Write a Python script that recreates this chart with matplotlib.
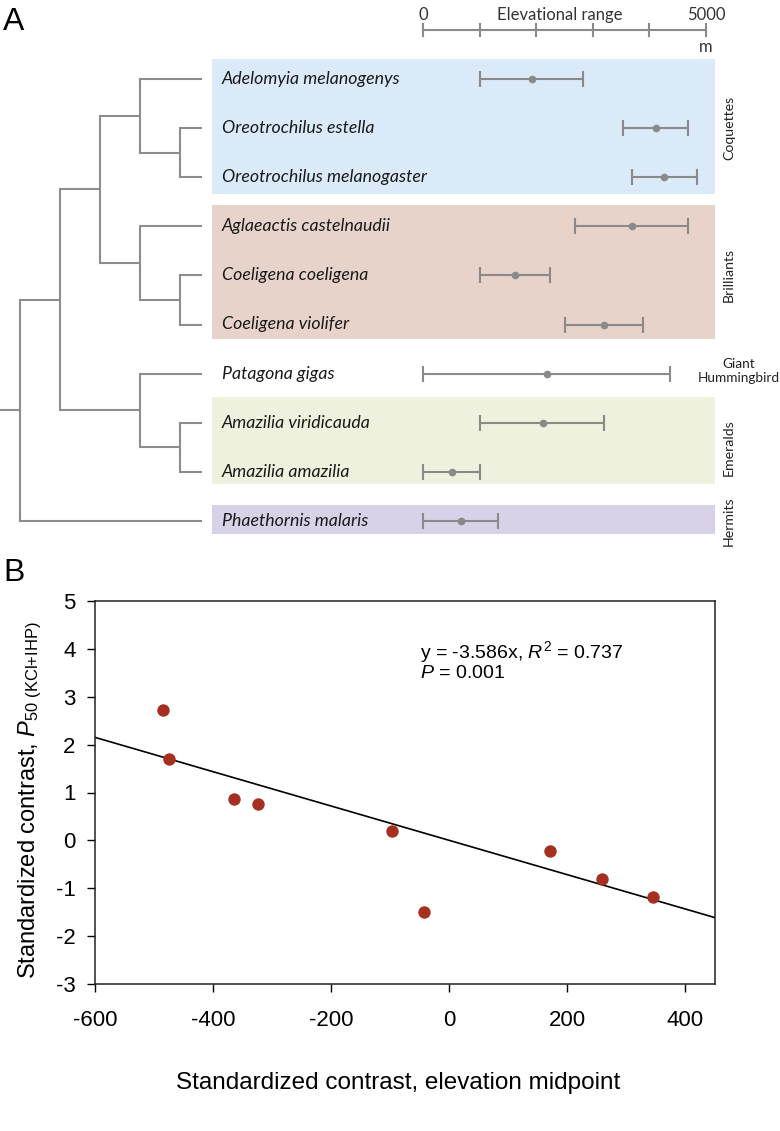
"""Hummingbird elevational ranges on a phylogeny (A) and P50 contrasts vs elevation (B)."""

import matplotlib
matplotlib.use('Agg')
import matplotlib.pyplot as plt
import matplotlib.transforms as mtransforms

# ---- panel A data ----
species = [
  'Adelomyia melanogenys', 'Oreotrochilus estella', 'Oreotrochilus melanogaster',
  'Aglaeactis castelnaudii', 'Coeligena coeligena', 'Coeligena violifer',
  'Patagona gigas', 'Amazilia viridicauda', 'Amazilia amazilia',
  'Phaethornis malaris',
]
elev_low = [1000, 3540, 3690, 2690, 1000, 2510, 0, 1000, 0, 0]
elev_mid = [1920, 4120, 4250, 3690, 1630, 3190, 2190, 2110, 510, 665]
elev_high = [2830, 4690, 4835, 4690, 2240, 3880, 4360, 3200, 1000, 1320]

# tree topology, leaves are indices into species
tree = (((((0, (1, 2)), (3, (4, 5))), (6, (7, 8))), 9))

group_names = ['Coquettes', 'Brilliants', 'Giant\nHummingbird', 'Emeralds', 'Hermits']
group_first = [0, 3, 6, 7, 9]
group_last = [2, 5, 6, 8, 9]
group_colors = ['#dbeaf8', '#e8d3cb', None, '#edf1dd', '#d9d1e7']
group_pads = [(0.40, 0.34), (0.44, 0.30), (0, 0), (0.52, 0.25), (0.33, 0.27)]

scale_ticks = [0, 1000, 2000, 3000, 4000, 5000]

# ---- panel B data ----
contrast_elev = [-485, -474, -364, -324, -97, -43, 171, 258, 345]
contrast_p50 = [2.72, 1.71, 0.86, 0.76, 0.20, -1.50, -0.23, -0.81, -1.18]
slope = -3.586e-3
fit_x = [-600, 450]

W, H = 780, 1131
plt.rcParams['mathtext.fontset'] = 'custom'
plt.rcParams['mathtext.rm'] = 'Liberation Sans'
plt.rcParams['mathtext.it'] = 'Liberation Sans:italic'
plt.rcParams['axes.unicode_minus'] = False
fig = plt.figure(figsize=(W / 100, H / 100), dpi=100)

tree_color = '#8c8c8c'
label_font = 'Lato'

# y in leaf units: leaf i sits at pixel 79 + 49.1 * i
px0, step = 79.0, 49.1
y_top = -px0 / step
y_bot = (540 - px0) / step
a_bottom = 1 - 540 / H
a_height = 540 / H

# tree axes, left part
ax_tree = fig.add_axes([0, a_bottom, 212 / W, a_height])
ax_tree.set_xlim(0, 10.6)
ax_tree.set_ylim(y_bot, y_top)
ax_tree.axis('off')


def draw_node(node):
  """Draw a clade, return (x, y, height)."""
  if isinstance(node, int):
    return 10.1, float(node), 0
  kids = [draw_node(child) for child in node]
  height = max(k[2] for k in kids) + 1
  x = 11 - 2 * height
  ys = [k[1] for k in kids]
  for kx, ky, _ in kids:
    ax_tree.plot([x, kx], [ky, ky], color=tree_color, lw=1.5, solid_capstyle='butt')
  ax_tree.plot([x, x], [min(ys), max(ys)], color=tree_color, lw=1.5, solid_capstyle='projecting')
  return x, sum(ys) / len(ys), height


root_x, root_y, _ = draw_node(tree)
ax_tree.plot([0, root_x], [root_y, root_y], color=tree_color, lw=1.5)

# range axes, right part
zero_px, per_km = 423.3, 56.54
ax_rng = fig.add_axes([212 / W, a_bottom, 503 / W, a_height])
ax_rng.set_xlim((212 - zero_px) / per_km * 1000, (715 - zero_px) / per_km * 1000)
ax_rng.set_ylim(y_bot, y_top)
ax_rng.axis('off')

text_tf = mtransforms.blended_transform_factory(ax_rng.transAxes, ax_rng.transData)
for name, first, last, color, (pt, pb) in zip(group_names, group_first, group_last,
                                                group_colors, group_pads):
  if color is not None:
    ax_rng.axhspan(first - pt, last + pb, color=color, lw=0, zorder=0)
  mid = (first + last) / 2
  if '\n' in name:
    ax_rng.text(1.047, mid - 0.05, name, transform=text_tf, ha='center', va='center',
                fontsize=9.8, family=label_font, color='#222222', clip_on=False,
                linespacing=1.25)
  else:
    ax_rng.text(1.028, mid, name, transform=text_tf, ha='center', va='center',
                rotation=90, fontsize=10.2, family=label_font, color='#222222', clip_on=False)

for i, name in enumerate(species):
  ax_rng.text(0.02, i, name, transform=text_tf, ha='left', va='center',
              fontsize=12.8, family=label_font, style='italic', color='#1a1a1a')

ax_rng.errorbar(elev_mid, range(len(species)),
                xerr=[[m - lo for m, lo in zip(elev_mid, elev_low)],
                      [hi - m for m, hi in zip(elev_mid, elev_high)]],
                fmt='o', color='#8a8a8a', ms=4.5, elinewidth=1.5, capsize=5.5,
                capthick=1.5, zorder=3)

# elevation scale bar
bar_y = (30 - px0) / step
ax_rng.plot([scale_ticks[0], scale_ticks[-1]], [bar_y, bar_y], color='#8a8a8a', lw=1.5,
            clip_on=False)
for t in scale_ticks:
  ax_rng.plot([t, t], [bar_y - 0.12, bar_y + 0.12], color='#8a8a8a', lw=1.5, clip_on=False)
lab_y = (15 - px0) / step
scale_style = dict(ha='center', va='center', fontsize=12, family=label_font,
                   color='#333333', clip_on=False)
ax_rng.text(scale_ticks[0], lab_y, '0', **scale_style)
ax_rng.text(scale_ticks[-1], lab_y, '5000', **scale_style)
ax_rng.text(2420, lab_y, 'Elevational range', **scale_style)
ax_rng.text(scale_ticks[-1], (47 - px0) / step, 'm', **scale_style)

# ---- panel B ----
ax_b = fig.add_axes([95 / W, 1 - 984 / H, 620 / W, 383 / H])
ax_b.scatter(contrast_elev, contrast_p50, s=80, color='#a5301f', zorder=3, lw=0)
ax_b.plot(fit_x, [slope * x for x in fit_x], color='black', lw=1.2, zorder=2)
ax_b.set_xlim(-600, 450)
ax_b.set_ylim(-3, 5)
ax_b.set_xticks(range(-600, 401, 200))
ax_b.set_yticks(range(-3, 6))
ax_b.tick_params(direction='out', length=6, width=1, labelsize=16,
                 labelfontfamily='Liberation Sans')
ax_b.tick_params(axis='x', pad=13)
ax_b.tick_params(axis='y', pad=8)
for spine in ax_b.spines.values():
  spine.set_linewidth(1.1)
  spine.set_color('#222222')
ax_b.text(0.524, 0.9, r'y = -3.586x, $R^{2}$ = 0.737' + '\n' + r'$P$ = 0.001',
          transform=ax_b.transAxes, ha='left', va='top', fontsize=14,
          family='Liberation Sans', linespacing=1.0)

fig.text(30 / W, 1 - 800 / H,
         r'Standardized contrast, $P_{\mathrm{50\ (KCl{+}IHP)}}$',
         rotation=90, ha='center', va='center', fontsize=17, family='Liberation Sans')
fig.text(398 / W, 1 - 1083 / H, 'Standardized contrast, elevation midpoint',
         ha='center', va='center', fontsize=17.5, family='Liberation Sans')

fig.text(14 / W, 1 - 22 / H, 'A', ha='center', va='center', fontsize=23,
         family='Liberation Sans')
fig.text(14 / W, 1 - 573 / H, 'B', ha='center', va='center', fontsize=23,
         family='Liberation Sans')

fig.savefig('out.png', dpi=100)
